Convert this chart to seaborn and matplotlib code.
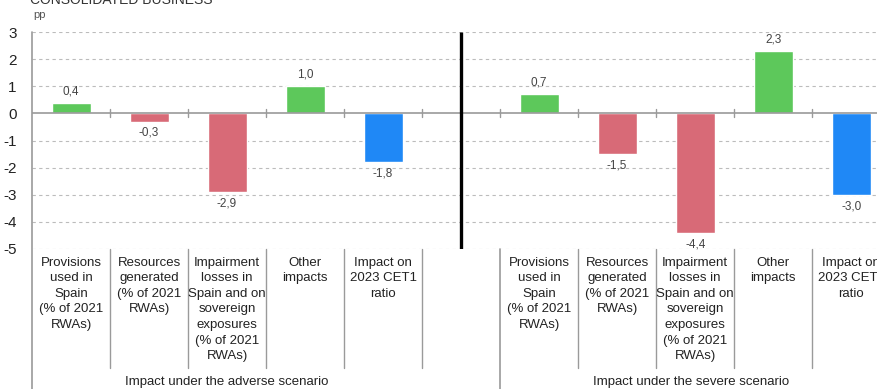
import numpy as np
import pandas as pd
import matplotlib
matplotlib.use("Agg")
import matplotlib.pyplot as plt
import seaborn as sns

# Chart data
categories = [
    "Provisions\nused in\nSpain\n(% of 2021\nRWAs)",
    "Resources\ngenerated\n(% of 2021\nRWAs)",
    "Impairment\nlosses in\nSpain and on\nsovereign\nexposures\n(% of 2021\nRWAs)",
    "Other\nimpacts",
    "Impact on\n2023 CET1\nratio",
]
adverse = [0.4, -0.3, -2.9, 1.0, -1.8]
severe = [0.7, -1.5, -4.4, 2.3, -3.0]
scenarios = ["Impact under the adverse scenario", "Impact under the severe scenario"]
value_labels_adverse = ["0,4", "-0,3", "-2,9", "1,0", "-1,8"]
value_labels_severe = ["0,7", "-1,5", "-4,4", "2,3", "-3,0"]
yticks = [3, 2, 1, 0, -1, -2, -3, -4, -5]

GREEN = "#5dc85b"
RED = "#d86a77"
BLUE = "#1f88f6"
bar_colors = [GREEN, RED, RED, GREEN, BLUE]

sns.set_theme(style="white")
plt.rcParams["font.family"] = ["Liberation Sans", "DejaVu Sans"]

# slots 0-4: adverse, slot 5: gap, slots 6-10: severe
slots = list(range(0, 5)) + list(range(6, 11))
df = pd.DataFrame({
    "slot": slots,
    "value": adverse + severe,
    "kind": [str(i) for i in range(5)] * 2,
    "label": value_labels_adverse + value_labels_severe,
})
palette = {str(i): c for i, c in enumerate(bar_colors)}

fig = plt.figure(figsize=(8.77, 3.89), dpi=100)
ax = fig.add_axes([32 / 877, 1 - 249 / 389, 1 - 32 / 877, 217 / 389])

sns.barplot(data=df, x="slot", y="value", hue="kind", palette=palette,
            order=list(range(11)), width=0.5, legend=False, dodge=False,
            saturation=1, ax=ax, zorder=3)

ax.set_xlim(-0.5, 10.33)
ax.set_ylim(-5, 3)
for s in ax.spines.values():
    s.set_visible(False)

# grid
for y in yticks:
    if y == 0:
        continue
    ax.axhline(y, color="#bcbcbc", lw=0.8, ls=(0, (3, 3)), zorder=1)
ax.axhline(0, color="#9a9a9a", lw=1.2, zorder=4)

ax.set_yticks(yticks)
ax.set_yticklabels([str(v) for v in yticks], fontsize=11, color="#222222")
ax.tick_params(axis="y", length=0, pad=11)
ax.set_xticks([])
ax.set_xlabel("")
ax.set_ylabel("")

# value labels
for _, r in df.iterrows():
    if r["value"] >= 0:
        ax.text(r["slot"], r["value"] + 0.2, r["label"], ha="center", va="bottom",
                fontsize=8.5, color="#444444")
    else:
        ax.text(r["slot"], r["value"] - 0.2, r["label"], ha="center", va="top",
                fontsize=8.5, color="#444444")

xt = ax.get_xaxis_transform()
# scenario separator
ax.plot([5, 5], [-5, 3], color="black", lw=2.4, zorder=5, solid_capstyle="butt")

# boundary ticks on zero line and separators below the axes
boundaries = [0.5, 1.5, 2.5, 3.5, 4.5, 6.5, 7.5, 8.5, 9.5]
for b in boundaries:
    ax.plot([b, b], [-0.15, 0.15], color="#9a9a9a", lw=1, zorder=4)
    ax.plot([b, b], [0, -0.55], transform=xt, color="#9a9a9a", lw=1, clip_on=False)
for b in [-0.5, 5.5]:
    ax.plot([b, b], [1 if b < 0 else 0, -0.7], transform=xt, color="#9a9a9a",
            lw=1.2, clip_on=False)
ax.plot([5.5, 5.5], [-0.15, 0.15], color="#9a9a9a", lw=1, zorder=4)

# category labels
for i, cat in enumerate(categories):
    for off in (0, 6):
        ax.text(i + off, -0.035, cat, transform=xt, ha="center", va="top",
                fontsize=9.5, color="#222222", linespacing=1.4, clip_on=False)

ax.text(2.0, -0.615, scenarios[0], transform=xt, ha="center", va="center",
        fontsize=9.5, color="#222222", clip_on=False)
ax.text(7.95, -0.615, scenarios[1], transform=xt, ha="center", va="center",
        fontsize=9.5, color="#222222", clip_on=False)

fig.text(30 / 877, 1 - 4 / 389, "CONSOLIDATED BUSINESS", ha="left", va="baseline",
         fontsize=10, color="#333333")
fig.text(33 / 877, 1 - 15 / 389, "pp", ha="left", va="center",
         fontsize=8, color="#555555")

fig.savefig("out.png", dpi=100)
